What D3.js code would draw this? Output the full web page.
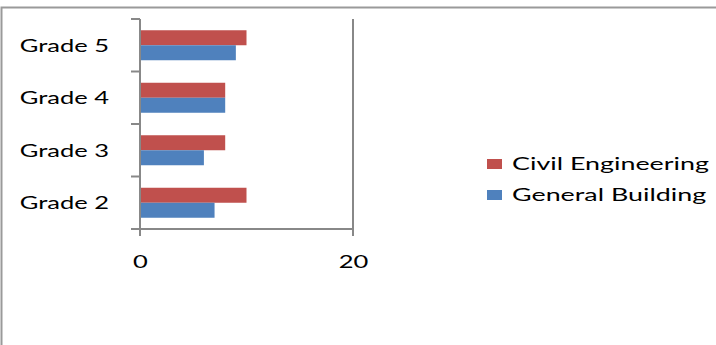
<!DOCTYPE html>
<html>
<head>
<meta charset="utf-8">
<script src="https://cdn.jsdelivr.net/npm/d3@7"></script>
<style>
  body { margin: 0; background: #fff; }
  svg { display: block; font-family: Lato, "Open Sans", sans-serif; }
</style>
</head>
<body>
<div id="chart"></div>
<script>
// chart data
var categories = ["Grade 2", "Grade 3", "Grade 4", "Grade 5"];
var seriesNames = ["Civil Engineering", "General Building"];
var civilEngineering = [10, 8, 8, 10];
var generalBuilding = [7, 6, 8, 9];
var xTicks = [0, 20];
var colors = ["#C0504D", "#4F81BD"];

var W = 716, H = 345;
var STRETCH = 1.5; // the original picture is stretched sideways
var LEG_STRETCH = 1.58;
var FONT = 17;

var svg = d3.select("#chart").append("svg")
    .attr("width", W)
    .attr("height", H);

// outer frame (runs off the right and bottom edge)
svg.append("rect")
    .attr("x", 1.5).attr("y", 7.5)
    .attr("width", W + 20).attr("height", H + 20)
    .attr("fill", "none")
    .attr("stroke", "#9a9a9a")
    .attr("stroke-width", 2);

var x = d3.scaleLinear().domain([0, 20]).range([140, 353]);
var y = d3.scaleBand().domain(categories).range([229, 19]).padding(0);
var ySub = d3.scaleBand().domain(seriesNames).range([0, y.bandwidth()]).paddingInner(0).paddingOuter(0.75);

var rows = categories.map(function(c, i){
	return {cat: c, values: [civilEngineering[i], generalBuilding[i]]};
});

// bars
var g = svg.append("g").attr("class", "bars");
var groups = g.selectAll("g").data(rows).enter().append("g")
    .attr("transform", function(d){ return "translate(0," + y(d.cat) + ")"; });
groups.selectAll("rect").data(function(d){
		return d.values.map(function(v, j){ return {name: seriesNames[j], v: v, j: j}; });
	}).enter().append("rect")
    .attr("x", x(0))
    .attr("y", function(d){ return ySub(d.name); })
    .attr("width", function(d){ return x(d.v) - x(0); })
    .attr("height", ySub.bandwidth())
    .attr("fill", function(d){ return colors[d.j]; });

// axis lines
var axisColor = "#888";
var yTop = y.range()[1], yBot = y.range()[0];
svg.append("line")
    .attr("x1", x(0)).attr("x2", x(0)).attr("y1", yTop).attr("y2", yBot + 7)
    .attr("stroke", axisColor).attr("stroke-width", 2);
svg.append("line")
    .attr("x1", x(20)).attr("x2", x(20)).attr("y1", yTop).attr("y2", yBot + 7)
    .attr("stroke", axisColor).attr("stroke-width", 2);
svg.append("line")
    .attr("x1", x(0)).attr("x2", x(20)).attr("y1", yBot).attr("y2", yBot)
    .attr("stroke", axisColor).attr("stroke-width", 2);

// category ticks on band edges
var edges = categories.map(function(c){ return y(c); }).concat([yBot]);
svg.append("g").selectAll("line").data(edges).enter().append("line")
    .attr("x1", x(0) - 9).attr("x2", x(0))
    .attr("y1", function(d){ return d; }).attr("y2", function(d){ return d; })
    .attr("stroke", axisColor).attr("stroke-width", 2);

// category labels
svg.append("g").selectAll("text").data(categories).enter().append("text")
    .attr("transform", function(d){
    	return "translate(109," + (y(d) + y.bandwidth() / 2 + 6.5) + ") scale(" + STRETCH + ",1)";
    })
    .attr("text-anchor", "end")
    .attr("font-size", FONT)
    .attr("fill", "#000")
    .text(function(d){ return d; });

// value tick labels
svg.append("g").selectAll("text").data(xTicks).enter().append("text")
    .attr("transform", function(d){ return "translate(" + (x(d) + 0.5) + ",268) scale(" + STRETCH + ",1)"; })
    .attr("text-anchor", "middle")
    .attr("font-size", FONT)
    .text(function(d){ return d; });

// legend
var legend = svg.append("g").attr("class", "legend");
var leg = legend.selectAll("g").data(seriesNames).enter().append("g")
    .attr("transform", function(d, i){ return "translate(487," + (159 + i * 31) + ")"; });
leg.append("rect")
    .attr("width", 15).attr("height", 10)
    .attr("fill", function(d, i){ return colors[i]; });
leg.append("text")
    .attr("transform", "translate(25,10.5) scale(" + LEG_STRETCH + ",1)")
    .attr("font-size", FONT)
    .text(function(d){ return d; });
</script>
</body>
</html>
